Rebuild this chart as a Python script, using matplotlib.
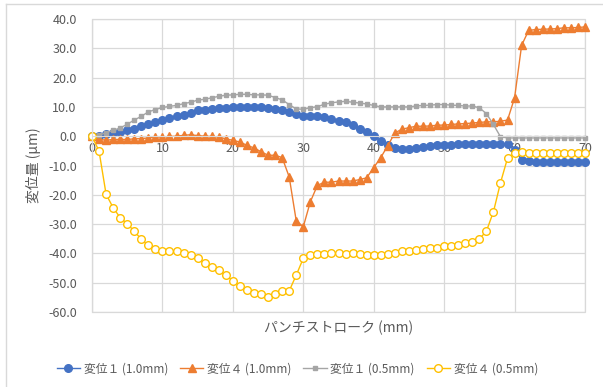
import matplotlib
matplotlib.use("Agg")
import matplotlib.pyplot as plt
from matplotlib.lines import Line2D
from matplotlib.patches import Rectangle
from matplotlib.ticker import FormatStrFormatter, MultipleLocator

plt.rcParams['font.family'] = ['Noto Sans CJK JP', 'DejaVu Sans']
plt.rcParams['axes.unicode_minus'] = False

# ----------------------------
# data (1 mm steps)
# ----------------------------
stroke = list(range(0, 71))

disp1_10 = [0, 0.2, 0.7, 1.1, 1.6, 2.0, 2.6, 3.5, 4.3, 4.9,
            5.5, 6.1, 6.8, 7.4, 8.0, 8.8, 9.0, 9.2, 9.5, 9.7,
            9.8, 9.9, 10.0, 9.9, 9.9, 9.7, 9.3, 8.9, 8.1, 7.5,
            7.0, 7.0, 6.9, 6.6, 6.0, 5.3, 4.7, 3.9, 2.6, 1.5,
            0.0, -1.6, -3.1, -4.1, -4.3, -4.2, -4.0, -3.6, -3.4, -3.1,
            -3.0, -2.9, -2.8, -2.7, -2.6, -2.6, -2.6, -2.6, -2.6, -2.8,
            -4.8, -8.0, -8.6, -8.8, -8.8, -8.8, -8.8, -8.9, -8.9, -8.9,
            -8.9]

disp4_10 = [0, -1.0, -1.4, -1.1, -1.1, -1.1, -0.9, -0.8, -0.6, -0.3,
            -0.3, -0.1, 0.0, 0.3, 0.5, 0.2, 0.0, -0.1, -0.3, -0.9,
            -1.4, -2.0, -3.1, -4.0, -5.3, -6.5, -6.5, -7.3, -13.9, -28.9,
            -30.9, -22.4, -16.8, -15.7, -15.7, -15.3, -15.3, -15.3, -14.8, -14.2,
            -10.7, -7.3, -3.2, 1.1, 2.4, 2.9, 3.4, 3.4, 3.5, 3.75,
            3.8, 4.0, 4.2, 4.3, 4.5, 4.7, 4.9, 4.9, 5.1, 5.5,
            13.1, 31.0, 36.1, 36.4, 36.5, 36.6, 36.7, 37.0, 37.0, 37.1,
            37.3]

disp1_05 = [0, 0.3, 1.2, 2.0, 2.8, 4.1, 5.5, 6.8, 8.3, 9.1,
            9.8, 10.2, 10.5, 11.1, 11.6, 12.3, 12.6, 13.1, 13.6, 14.0,
            14.1, 14.3, 14.3, 14.1, 14.1, 14.0, 13.2, 12.4, 10.8, 9.3,
            9.2, 9.7, 10.1, 10.9, 11.4, 11.7, 11.9, 11.6, 11.3, 11.0,
            10.5, 10.0, 10.0, 10.0, 10.0, 10.0, 10.3, 10.5, 10.6, 10.8,
            10.8, 10.6, 10.5, 10.3, 10.3, 9.7, 7.7, 4.0, -0.2, -0.6,
            -0.6, -0.6, -0.6, -0.6, -0.6, -0.6, -0.6, -0.6, -0.6, -0.6,
            -0.6]

disp4_05 = [0, -5.1, -19.8, -24.4, -27.8, -29.9, -32.4, -35.2, -37.3, -38.5,
            -39.2, -39.1, -39.3, -39.8, -40.7, -41.7, -43.2, -44.8, -45.8, -47.5,
            -49.3, -51.0, -52.5, -53.4, -54.0, -54.8, -53.8, -52.9, -52.8, -47.4,
            -41.7, -40.6, -40.3, -40.1, -40.0, -40.0, -40.1, -40.0, -40.3, -40.6,
            -40.6, -40.6, -40.1, -39.7, -39.3, -39.1, -38.9, -38.6, -38.3, -38.0,
            -37.6, -37.4, -37.2, -36.6, -36.0, -35.1, -32.4, -25.8, -15.9, -7.5,
            -5.7, -5.3, -5.6, -5.6, -5.6, -5.6, -5.6, -5.6, -5.6, -5.6,
            -5.6]

labels = ['変位１ (1.0mm)', '変位４ (1.0mm)', '変位１ (0.5mm)', '変位４ (0.5mm)']

grid_c = '#D9D9D9'
text_c = '#595959'

fig = plt.figure(figsize=(6.03, 3.87), dpi=100)
ax = fig.add_axes([92 / 603, 1 - 312 / 387, 493 / 603, 293 / 387])

ax.plot(stroke, disp1_10, color='#4472C4', lw=1.0, marker='o', ms=5.5,
        label=labels[0], clip_on=False)
ax.plot(stroke, disp4_10, color='#ED7D31', lw=1.0, marker='^', ms=6,
        label=labels[1], clip_on=False)
ax.plot(stroke, disp1_05, color='#A5A5A5', lw=1.0, marker='s', ms=3,
        label=labels[2], clip_on=False)
ax.plot(stroke, disp4_05, color='#FFC000', lw=1.0, marker='o', ms=5.5,
        mfc='white', mew=1.0, label=labels[3], clip_on=False)

ax.set_xlim(0, 70)
ax.set_ylim(-60, 40)
ax.xaxis.set_major_locator(MultipleLocator(10))
ax.yaxis.set_major_locator(MultipleLocator(10))
ax.yaxis.set_major_formatter(FormatStrFormatter('%.1f'))
ax.grid(True, color=grid_c, lw=0.9)
ax.set_axisbelow(True)

for side in ['top', 'right']:
    ax.spines[side].set_visible(False)
ax.spines['left'].set_color(grid_c)
ax.spines['bottom'].set_color(grid_c)
ax.spines['bottom'].set_position(('data', 0))
ax.add_patch(Rectangle((0, 0), 1, 1, transform=ax.transAxes, fill=False,
                       ec=grid_c, lw=0.9, clip_on=False, zorder=0.4))

ax.tick_params(axis='x', length=0, pad=4, labelsize=9, labelcolor=text_c)
ax.tick_params(axis='y', length=0, pad=11, labelsize=9, labelcolor=text_c)

ax.set_xlabel('パンチストローク (mm)', fontsize=10, color=text_c)
ax.xaxis.set_label_coords(0.5, -0.028)
ax.set_ylabel('変位量 (μm)', fontsize=10, color=text_c)
ax.yaxis.set_label_coords(-0.104, 0.5)

fig.legend(loc='center', bbox_to_anchor=(0.493, 0.047), ncol=4, frameon=False,
           fontsize=8.5, labelcolor=text_c, handlelength=2.0, handletextpad=0.3,
           columnspacing=1.0)

# chart area border
fig.add_artist(Line2D([5.5 / 603, 5.5 / 603], [0, 1 - 4 / 387], color=grid_c, lw=1))
fig.add_artist(Line2D([5.5 / 603, 1], [1 - 4 / 387, 1 - 4 / 387], color=grid_c, lw=1))

fig.savefig('out.png', dpi=100)
